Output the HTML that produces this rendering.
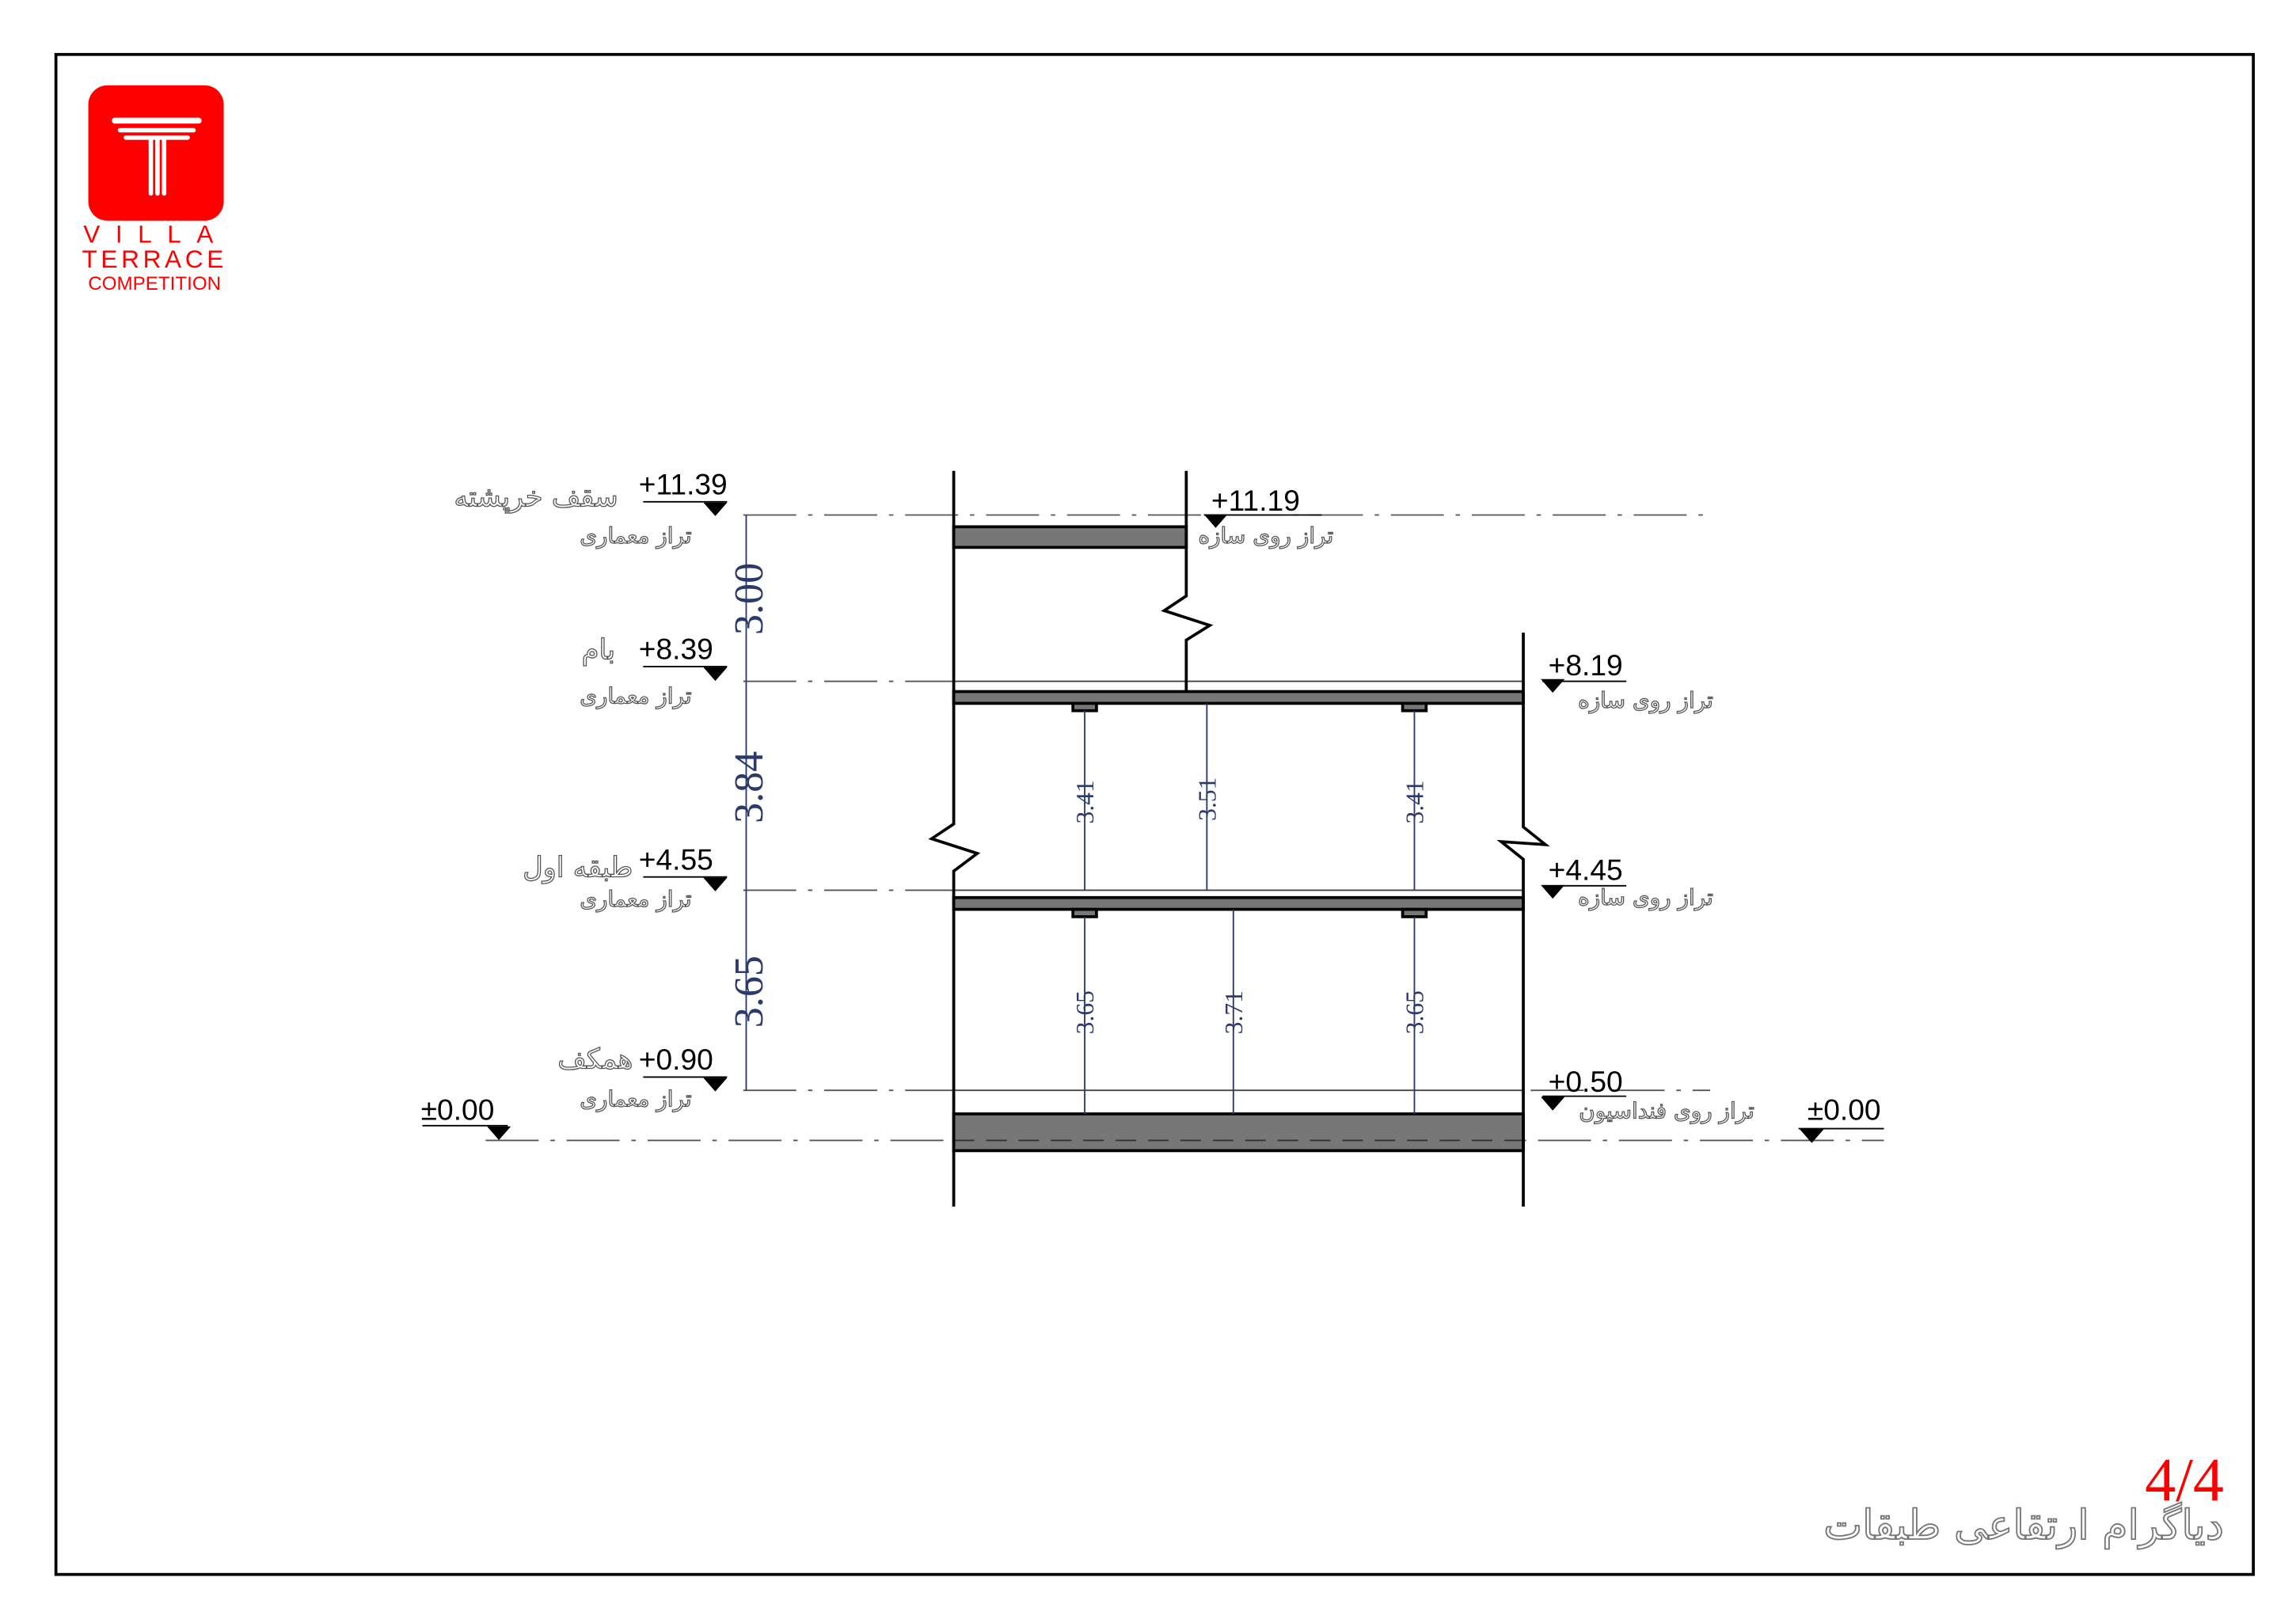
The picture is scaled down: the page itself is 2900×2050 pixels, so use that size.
<!DOCTYPE html>
<html><head><meta charset="utf-8"><style>
html,body{margin:0;padding:0;background:#fff;}
svg{display:block;}
.num{font-family:"Liberation Sans Narrow","Liberation Sans",sans-serif;font-size:20px;fill:#000;}
.fa{font-family:"DejaVu Sans","Noto Sans CJK SC",sans-serif;fill:#fff;stroke:#555;stroke-width:0.7;}
.dim{font-family:"Liberation Serif",serif;fill:#2b3a6b;}
</style></head><body>
<svg width="2900" height="2050" viewBox="0 0 1560 1103" preserveAspectRatio="none" xmlns="http://www.w3.org/2000/svg">
<rect x="38" y="37" width="1493" height="1033" fill="none" stroke="#000" stroke-width="2"/>
<!-- logo -->
<rect x="60" y="58" width="92" height="92" rx="13" fill="#f00"/>
<rect x="76" y="80" width="61" height="4" rx="2" fill="#fff"/>
<rect x="80" y="87" width="53" height="3" rx="1.5" fill="#fff"/>
<rect x="84" y="92" width="45" height="3" rx="1.5" fill="#fff"/>
<rect x="101" y="92" width="3" height="41" rx="1.5" fill="#fff"/>
<rect x="105.5" y="92" width="3" height="41" rx="1.5" fill="#fff"/>
<rect x="110" y="92" width="3" height="41" rx="1.5" fill="#fff"/>
<text x="106" y="165" text-anchor="middle" font-family="Liberation Sans,sans-serif" font-size="17" fill="#f00" letter-spacing="10.5">VILLA</text>
<text x="105" y="182" text-anchor="middle" font-family="Liberation Sans,sans-serif" font-size="17" fill="#f00" letter-spacing="2.5">TERRACE</text>
<text x="105" y="197" text-anchor="middle" font-family="Liberation Sans,sans-serif" font-size="13" fill="#f00">COMPETITION</text>

<!-- level lines -->
<g stroke="#555" stroke-width="1" stroke-dasharray="36,8,3,8" fill="none">
<line x1="505" y1="350" x2="1162" y2="350"/>
<line x1="505" y1="463" x2="648" y2="463"/>
<line x1="505" y1="605" x2="648" y2="605"/>
<line x1="505" y1="741" x2="648" y2="741"/>
<line x1="1040" y1="741" x2="1162" y2="741"/>
<line x1="330" y1="775" x2="1280" y2="775"/>
</g>
<g stroke="#444" stroke-width="1">
<line x1="648" y1="463" x2="1035" y2="463"/>
<line x1="648" y1="605" x2="1035" y2="605"/>
<line x1="648" y1="741" x2="1035" y2="741"/>
</g>

<!-- slabs -->
<g fill="#777" stroke="#000" stroke-width="2">
<rect x="648" y="358" width="158" height="14"/>
<rect x="648" y="470" width="387" height="8"/>
<rect x="729" y="478" width="16" height="5"/>
<rect x="953" y="478" width="16" height="5"/>
<rect x="648" y="610" width="387" height="8"/>
<rect x="729" y="618" width="16" height="5"/>
<rect x="953" y="618" width="16" height="5"/>
<rect x="648" y="757" width="387" height="25"/>
</g>
<line x1="648" y1="775" x2="1035" y2="775" stroke="#333" stroke-dasharray="14,8"/>

<!-- walls -->
<g stroke="#000" stroke-width="2" fill="none">
<polyline points="648,320 648,560 633,570 664,580 648,592 648,820"/>
<polyline points="806,320 806,405 791,415 822,425 806,435 806,470"/>
<polyline points="1035,430 1035,562 1050,574 1020,572 1035,584 1035,820"/>
</g>

<!-- dimension main -->
<g stroke="#2b3a6b" stroke-width="1">
<line x1="507" y1="350" x2="507" y2="741"/>
<line x1="737" y1="483" x2="737" y2="605"/>
<line x1="820" y1="478" x2="820" y2="605"/>
<line x1="961" y1="483" x2="961" y2="605"/>
<line x1="737" y1="623" x2="737" y2="757"/>
<line x1="838" y1="618" x2="838" y2="757"/>
<line x1="961" y1="623" x2="961" y2="757"/>
</g>
<g class="dim" font-size="28">
<text transform="translate(518,407) rotate(-90)" text-anchor="middle">3.00</text>
<text transform="translate(518,535) rotate(-90)" text-anchor="middle">3.84</text>
<text transform="translate(518,674) rotate(-90)" text-anchor="middle">3.65</text>
</g>
<g class="dim" font-size="17">
<text transform="translate(743,545) rotate(-90)" text-anchor="middle">3.41</text>
<text transform="translate(826,543) rotate(-90)" text-anchor="middle">3.51</text>
<text transform="translate(967,545) rotate(-90)" text-anchor="middle">3.41</text>
<text transform="translate(743,688) rotate(-90)" text-anchor="middle">3.65</text>
<text transform="translate(844,688) rotate(-90)" text-anchor="middle">3.71</text>
<text transform="translate(967,688) rotate(-90)" text-anchor="middle">3.65</text>
</g>

<!-- level markers -->
<g stroke="#000" stroke-width="1" fill="#000">
<line x1="437" y1="341" x2="494" y2="341"/><path d="M479,342 L493,342 L486,350 Z"/>
<line x1="437" y1="453" x2="494" y2="453"/><path d="M479,454 L493,454 L486,462 Z"/>
<line x1="437" y1="596" x2="494" y2="596"/><path d="M479,597 L493,597 L486,605 Z"/>
<line x1="437" y1="732" x2="494" y2="732"/><path d="M479,733 L493,733 L486,741 Z"/>
<line x1="287" y1="765" x2="345" y2="765"/><path d="M332,766 L346,766 L339,774 Z"/>
<line x1="818" y1="350" x2="898" y2="350"/><path d="M819,350 L833,350 L826,358 Z"/>
<line x1="1048" y1="463" x2="1105" y2="463"/><path d="M1048,462 L1062,462 L1055,470 Z"/>
<line x1="1048" y1="602" x2="1105" y2="602"/><path d="M1048,602 L1062,602 L1055,610 Z"/>
<line x1="1048" y1="745" x2="1105" y2="745"/><path d="M1048,746 L1062,746 L1055,754 Z"/>
<line x1="1222" y1="767" x2="1280" y2="767"/><path d="M1224,768 L1238,768 L1231,776 Z"/>
</g>
<g class="num">
<text x="434" y="336">+11.39</text>
<text x="434" y="448">+8.39</text>
<text x="434" y="591">+4.55</text>
<text x="434" y="727">+0.90</text>
<text x="286" y="761">±0.00</text>
<text x="823" y="347">+11.19</text>
<text x="1052" y="459">+8.19</text>
<text x="1052" y="598">+4.45</text>
<text x="1052" y="742">+0.50</text>
<text x="1228" y="761">±0.00</text>
</g>

<!-- persian labels -->
<g class="fa" font-size="19">
<text x="420" y="344" text-anchor="start" direction="rtl">سقف خرپشته</text>
<text x="418" y="448" text-anchor="start" direction="rtl">بام</text>
<text x="430" y="596" text-anchor="start" direction="rtl">طبقه اول</text>
<text x="430" y="726" text-anchor="start" direction="rtl">همکف</text>
</g>
<g class="fa" font-size="15">
<text x="470" y="369" text-anchor="start" direction="rtl">تراز معماری</text>
<text x="470" y="478" text-anchor="start" direction="rtl">تراز معماری</text>
<text x="470" y="616" text-anchor="start" direction="rtl">تراز معماری</text>
<text x="470" y="752" text-anchor="start" direction="rtl">تراز معماری</text>
<text x="906" y="369" text-anchor="start" direction="rtl">تراز روی سازه</text>
<text x="1164" y="481" text-anchor="start" direction="rtl">تراز روی سازه</text>
<text x="1164" y="615" text-anchor="start" direction="rtl">تراز روی سازه</text>
<text x="1192" y="760" text-anchor="start" direction="rtl">تراز روی فنداسیون</text>
</g>

<text x="1511" y="1020" text-anchor="end" font-family="Liberation Serif,serif" font-size="42" fill="#f00">4/4</text>
<text x="1511" y="1046" text-anchor="start" direction="rtl" class="fa" font-size="28" style="stroke:#777;stroke-width:1">دیاگرام ارتقاعی طبقات</text>
</svg>
</body></html>
